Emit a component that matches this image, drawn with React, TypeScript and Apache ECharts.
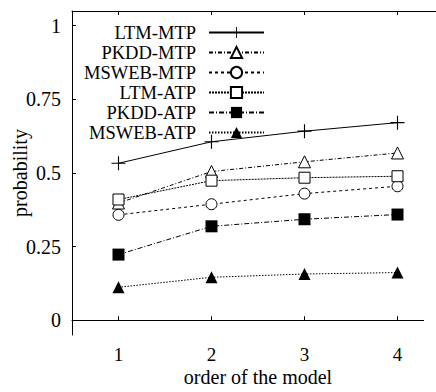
import React, { useEffect, useRef } from "react";
import * as echarts from "echarts";

const categories = ["1", "2", "3", "4"];
const yTicks = [0, 0.25, 0.5, 0.75, 1];
const ltmMtp = [0.533, 0.606, 0.642, 0.671];
const pkddMtp = [0.398, 0.505, 0.538, 0.568];
const mswebMtp = [0.358, 0.394, 0.43, 0.455];
const ltmAtp = [0.41, 0.474, 0.484, 0.489];
const pkddAtp = [0.223, 0.319, 0.343, 0.359];
const mswebAtp = [0.112, 0.146, 0.157, 0.162];

const FONT = "Liberation Serif";
const PLUS = "path://M4.6,0h0.8v10h-0.8z M0,4.6h10v0.8h-10z";

export default function App() {
  const ref = useRef<HTMLDivElement>(null);
  useEffect(() => {
    if (!ref.current) return;
    const chart = echarts.init(ref.current, null, { renderer: "svg" });
    const mk = (name: string, data: number[], symbol: string, size: number, filled: boolean, type: any) => ({
      name,
      type: "line",
      data,
      symbol,
      symbolSize: size,
      showAllSymbol: true,
      lineStyle: { color: "#000", width: 1, type },
      itemStyle: filled
        ? { color: "#000", borderColor: "#000", borderWidth: 0 }
        : { color: "#fff", borderColor: "#000", borderWidth: 1 },
      emphasis: { disabled: true },
    });
    chart.setOption({
      animation: false,
      backgroundColor: "#fff",
      textStyle: { fontFamily: FONT },
      grid: {
        left: 72,
        top: 11,
        right: -8,
        bottom: 57,
        show: false,
        outerBoundsMode: "none",
        containLabel: false,
      },
      graphic: [
        {
          type: "rect",
          z: 100,
          silent: true,
          shape: { x: 424, y: 12.5, width: 12, height: 322 },
          style: { fill: "#fff", stroke: null },
        },
      ],
      legend: {
        orient: "vertical",
        align: "right",
        right: 171,
        top: 23,
        padding: 0,
        itemGap: 1,
        itemWidth: 55,
        itemHeight: 14,
        textStyle: { fontFamily: FONT, fontSize: 18.5, color: "#000", lineHeight: 18, padding: [0, 8, 0, 0] },
        data: ["LTM-MTP", "PKDD-MTP", "MSWEB-MTP", "LTM-ATP", "PKDD-ATP", "MSWEB-ATP"],
      },
      xAxis: [
        {
          type: "category",
          data: categories,
          boundaryGap: true,
          position: "bottom",
          axisLine: { show: true, lineStyle: { color: "#000", width: 1 } },
          axisTick: { show: true, inside: true, alignWithLabel: true, length: 4, lineStyle: { color: "#000" } },
          axisLabel: { fontFamily: FONT, fontSize: 19, color: "#000", margin: 10 },
          splitLine: { show: false },
          name: "order of the model",
          nameLocation: "middle",
          nameGap: 32,
          nameMoveOverlap: false,
          nameTextStyle: { fontFamily: FONT, fontSize: 20, color: "#000" },
        },
        {
          type: "category",
          data: categories,
          boundaryGap: true,
          position: "top",
          axisLine: { show: true, lineStyle: { color: "#000", width: 1 } },
          axisTick: { show: true, inside: true, alignWithLabel: true, length: 4, lineStyle: { color: "#000" } },
          axisLabel: { show: false },
          splitLine: { show: false },
        },
      ],
      yAxis: {
        type: "value",
        min: -0.05,
        max: 1.05,
        axisLine: { show: true, lineStyle: { color: "#000", width: 1 } },
        axisTick: { show: true, inside: true, length: 4, customValues: yTicks, lineStyle: { color: "#000" } },
        axisLabel: {
          fontFamily: FONT,
          fontSize: 20,
          color: "#000",
          margin: 11,
          customValues: yTicks,
          formatter: (v: number) => String(v),
        },
        splitLine: { show: false },
        name: "probability",
        nameLocation: "middle",
        nameGap: 42,
        nameMoveOverlap: false,
        nameTextStyle: { fontFamily: FONT, fontSize: 20, color: "#000" },
      },
      series: [
        mk("LTM-MTP", ltmMtp, PLUS, 14, true, "solid"),
        mk("PKDD-MTP", pkddMtp, "triangle", 12, false, [4, 2, 1, 2]),
        mk("MSWEB-MTP", mswebMtp, "circle", 11, false, [3, 3]),
        mk("LTM-ATP", ltmAtp, "rect", 11, false, [2, 1]),
        mk("PKDD-ATP", pkddAtp, "rect", 12, true, [5, 2, 1, 2]),
        mk("MSWEB-ATP", mswebAtp, "triangle", 12, true, [1.5, 1.5]),
      ],
    });
    return () => chart.dispose();
  }, []);
  return <div ref={ref} style={{ width: 436, height: 392, position: "absolute", left: 0, top: 0 }} />;
}
